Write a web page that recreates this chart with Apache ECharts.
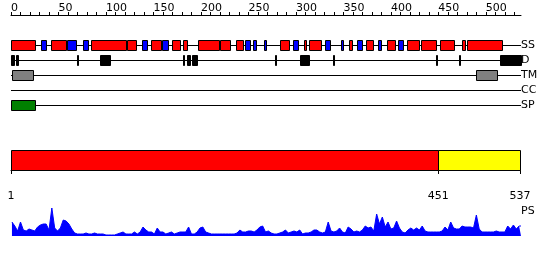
<!DOCTYPE html>
<html><head><meta charset="utf-8">
<script src="https://cdn.jsdelivr.net/npm/echarts@6/dist/echarts.min.js"></script>
<style>html,body{margin:0;padding:0;background:#fff}#c{width:550px;height:260px}</style>
</head><body><div id="c"></div>
<script>
// ---- data ----
const seqLength = 537;
const rowNames = ['SS', 'D', 'TM', 'CC', 'SP'];
const ssHelix = [[0,25],[42,58],[84,121],[122,132],[147,158],[170,178],[181,185],[197,219],[220,231],[237,244],
  [283,293],[309,311],[314,326],[356,359],[374,381],[396,404],[417,430],[432,447],[452,466],[475,478],[480,517]];
const ssStrand = [[32,37],[59,68],[76,81],[138,143],[159,165],[246,252],[255,258],[266,269],[297,302],[331,336],
  [347,350],[364,370],[386,390],[408,413]];
const disorder = [[0,3],[5,7],[70,71],[94,104],[181,182],[185,188],[191,196],[278,279],[304,314],[339,340],
  [447,448],[472,473],[515,537]];
const transmem = [[1,23],[490,512]];
const coiledCoil = [];
const signalPeptide = [[0,25]];
const domainA = [1, 451];
const domainB = [451, 537];
const topTickValues = [0,10,20,30,40,50,60,70,80,90,100,110,120,130,140,150,160,170,180,190,200,210,220,230,240,250,
  260,270,280,290,300,310,320,330,340,350,360,370,380,390,400,410,420,430,440,450,460,470,480,490,500,510,520,530];
const topLabelValues = [0,50,100,150,200,250,300,350,400,450,500];
const bottomTickValues = [1, 451, 537];
const psStart = 1, psStep = 3;
const psValues = [
  14,10,5,14,6,5,7,6,5,9,11,12,12,6,28,8,5,8,16,15,
  12,7,3,2,2,2,3,2,2,3,2,2,2,1,1,1,1,2,3,4,
  2,2,2,4,2,4,9,6,4,4,2,8,4,4,2,3,4,2,3,4,
  4,4,9,2,2,4,8,9,4,3,2,2,2,2,2,2,2,2,2,3,
  6,4,4,5,5,4,6,9,10,4,5,3,2,2,3,4,6,3,4,5,
  4,6,2,3,3,4,6,6,4,3,4,14,5,4,5,8,4,3,9,7,
  4,5,4,6,10,8,9,5,22,12,19,9,14,7,8,15,8,4,3,6,
  8,6,8,6,10,5,4,4,4,4,4,5,9,6,14,8,7,7,10,9,
  9,9,8,21,7,4,4,4,4,4,5,4,4,4,10,7,11,7,10,10
];

// ---- build ----
const FONT = 'DejaVu Sans, sans-serif';
const colors = {H:'#ff0000', E:'#0000ff', D:'#000000', TM:'#808080', SP:'#008000', CC:'#888888', A:'#ff0000', B:'#ffff00'};
const segData = [];
ssHelix.forEach(s => segData.push([s[0], s[1], 0, 'H']));
ssStrand.forEach(s => segData.push([s[0], s[1], 0, 'E']));
disorder.forEach(s => segData.push([s[0], s[1], 1, 'D']));
transmem.forEach(s => segData.push([s[0], s[1], 2, 'TM']));
coiledCoil.forEach(s => segData.push([s[0], s[1], 3, 'CC']));
signalPeptide.forEach(s => segData.push([s[0], s[1], 4, 'SP']));
const lineData = rowNames.map((n, i) => [0, seqLength, i]);
const psData = psValues.map((v, i) => [Math.min(psStart + i * psStep, seqLength), v]);

const chart = echarts.init(document.getElementById('c'), null, {renderer: 'canvas'});
chart.setOption({
  animation: false,
  backgroundColor: '#fff',
  textStyle: {fontFamily: FONT},
  grid: [
    {left: 11, width: 510, top: 38, height: 75},
    {left: 11, width: 509, top: 150, height: 20},
    {left: 11, width: 510, top: 206, height: 30}
  ],
  xAxis: [
    {gridIndex: 0, type: 'value', min: 0, max: seqLength, position: 'top', offset: 23,
      splitLine: {show: false},
      axisLine: {show: true, lineStyle: {color: '#000', width: 1}},
      axisTick: {show: true, inside: false, length: 3, customValues: topTickValues, lineStyle: {color: '#000'}},
      axisLabel: {show: true, customValues: topLabelValues, align: 'left', margin: 1, fontSize: 11, color: '#000', fontFamily: FONT}},
    {gridIndex: 1, type: 'value', min: 1, max: seqLength, position: 'bottom', offset: 11,
      splitLine: {show: false},
      axisLine: {show: true, lineStyle: {color: '#000', width: 1}},
      axisTick: {show: true, length: 4, customValues: bottomTickValues, lineStyle: {color: '#000'}},
      axisLabel: {show: true, customValues: bottomTickValues, margin: 10, fontSize: 11, color: '#000', fontFamily: FONT}},
    {gridIndex: 2, type: 'value', min: 0, max: seqLength, show: false}
  ],
  yAxis: [
    {gridIndex: 0, type: 'category', data: rowNames, inverse: true, position: 'right',
      axisLine: {show: false}, axisTick: {show: false}, splitLine: {show: false},
      axisLabel: {margin: 0, fontSize: 11, color: '#000', align: 'left', fontFamily: FONT}},
    {gridIndex: 1, type: 'value', min: 0, max: 1, show: false},
    {gridIndex: 2, type: 'value', min: 0, max: 30, show: false}
  ],
  graphic: [
    {type: 'text', left: 521, top: 206, style: {text: 'PS', font: '11px ' + FONT, fill: '#000'}}
  ],
  series: [
    {type: 'custom', xAxisIndex: 0, yAxisIndex: 0, data: lineData, z: 1,
      renderItem: function (params, api) {
        const a = api.coord([api.value(0), api.value(2)]);
        const b = api.coord([api.value(1), api.value(2)]);
        const y = Math.round(a[1] - 0.5) + 0.5;
        return {type: 'line', shape: {x1: a[0], y1: y, x2: b[0], y2: y}, style: {stroke: '#000', lineWidth: 1}};
      }},
    {type: 'custom', xAxisIndex: 0, yAxisIndex: 0, data: segData, z: 2,
      encode: {x: [0, 1], y: 2},
      renderItem: function (params, api) {
        const a = api.coord([api.value(0), api.value(2)]);
        const b = api.coord([api.value(1), api.value(2)]);
        const key = segData[params.dataIndex][3];
        const x0 = Math.round(a[0]) + 0.5;
        const w = Math.max(Math.round(b[0]) - Math.round(a[0]), 1);
        const yc = Math.round(a[1] - 0.5) + 0.5;
        return {type: 'rect', shape: {x: x0, y: yc - 5, width: w, height: 10},
          style: {fill: colors[key], stroke: '#000', lineWidth: 1}};
      }},
    {type: 'custom', xAxisIndex: 1, yAxisIndex: 1, data: [[domainA[0], domainA[1], 'A'], [domainB[0], domainB[1], 'B']], z: 2,
      renderItem: function (params, api) {
        const a = api.coord([api.value(0), 1]);
        const b = api.coord([api.value(1), 0]);
        const key = params.dataIndex === 0 ? 'A' : 'B';
        const x0 = Math.round(a[0]) + 0.5, x1 = Math.round(b[0]) + 0.5;
        const y0 = Math.round(a[1]) + 0.5, y1 = Math.round(b[1]) + 0.5;
        return {type: 'rect', shape: {x: x0, y: y0, width: x1 - x0, height: y1 - y0},
          style: {fill: colors[key], stroke: '#000', lineWidth: 1}};
      }},
    {type: 'line', xAxisIndex: 2, yAxisIndex: 2, data: psData, symbol: 'none', smooth: false,
      lineStyle: {color: '#0000ff', width: 1}, areaStyle: {color: '#0000ff', opacity: 1}, itemStyle: {color: '#0000ff'}}
  ]
});
</script></body></html>
